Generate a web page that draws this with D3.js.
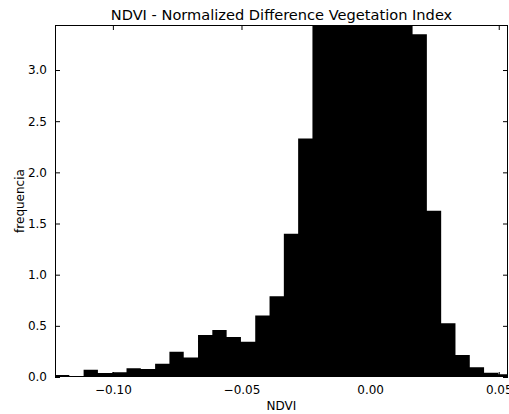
<!DOCTYPE html>
<html>
<head>
<meta charset="utf-8">
<script src="https://cdn.jsdelivr.net/npm/d3@7"></script>
<style>
  body { margin: 0; background: #fff; }
  text { font-family: "DejaVu Sans", sans-serif; fill: #000; }
</style>
</head>
<body>
<div id="chart"></div>
<script>
// histogram data: bins start at binStart, each binWidth wide
const binStart = -0.1225;
const binWidth = 0.00556;
const counts = [0.02, 0.007, 0.07, 0.04, 0.046, 0.085, 0.078, 0.13, 0.246, 0.19,
  0.41, 0.46, 0.39, 0.345, 0.60, 0.79, 1.40, 2.33, 3.9, 5.0,
  5.8, 6.2, 6.0, 5.3, 4.4, 3.35, 1.625, 0.525, 0.215, 0.095,
  0.042, 0.026];
const xTicks = [-0.10, -0.05, 0.00, 0.05];
const yTicks = [0.0, 0.5, 1.0, 1.5, 2.0, 2.5, 3.0];

const width = 509, height = 414;
const margin = { top: 25, right: 1, bottom: 37, left: 55 };

const svg = d3.select("#chart").append("svg")
  .attr("width", width)
  .attr("height", height);

// scales
const x = d3.scaleLinear()
  .domain([-0.1225, 0.0536])
  .range([margin.left, width - margin.right]);
const y = d3.scaleLinear()
  .domain([0, 3.44])
  .range([height - margin.bottom, margin.top]);

svg.append("clipPath").attr("id", "plot")
  .append("rect")
  .attr("x", margin.left).attr("y", margin.top)
  .attr("width", width - margin.left - margin.right)
  .attr("height", height - margin.top - margin.bottom);

// bars (drawn as one path so there are no seams between neighbours)
const area = d3.area()
  .curve(d3.curveStepAfter)
  .x(d => x(d[0]))
  .y0(y(0))
  .y1(d => y(d[1]));
const steps = counts.map((c, i) => [binStart + i * binWidth, c]);
steps.push([binStart + counts.length * binWidth, counts[counts.length - 1]]);

svg.append("g").attr("clip-path", "url(#plot)")
  .append("path")
  .datum(steps)
  .attr("d", area)
  .attr("fill", "#000");

const fmt = d => d3.format(".2f")(d).replace("-", "\u2212");

// axes, ticks pointing inward like classic matplotlib
const xBottom = svg.append("g")
  .attr("transform", `translate(0,${height - margin.bottom})`)
  .call(d3.axisBottom(x).tickValues(xTicks).tickSizeInner(-5).tickSizeOuter(0).tickPadding(8).tickFormat(fmt));
const xTop = svg.append("g")
  .attr("transform", `translate(0,${margin.top})`)
  .call(d3.axisTop(x).tickValues(xTicks).tickSizeInner(-5).tickSizeOuter(0).tickFormat(""));
const yLeft = svg.append("g")
  .attr("transform", `translate(${margin.left},0)`)
  .call(d3.axisLeft(y).tickValues(yTicks).tickSizeInner(-5).tickSizeOuter(0).tickPadding(8).tickFormat(d3.format(".1f")));
const yRight = svg.append("g")
  .attr("transform", `translate(${width - margin.right},0)`)
  .call(d3.axisRight(y).tickValues(yTicks).tickSizeInner(-5).tickSizeOuter(0).tickFormat(""));

[xBottom, xTop, yLeft, yRight].forEach(g => {
  g.select(".domain").remove();
  g.selectAll("line").attr("stroke", "#000");
  g.selectAll("text").attr("font-size", 12).attr("font-family", "DejaVu Sans").attr("fill", "#000");
});

// frame
svg.append("rect")
  .attr("x", margin.left + 0.5).attr("y", margin.top + 0.5)
  .attr("width", width - margin.left - margin.right - 1)
  .attr("height", height - margin.top - margin.bottom - 1)
  .attr("fill", "none")
  .attr("stroke", "#000");

// labels
svg.append("text")
  .attr("x", (margin.left + width - margin.right) / 2)
  .attr("y", 20)
  .attr("text-anchor", "middle")
  .attr("font-size", 14.6)
  .text("NDVI - Normalized Difference Vegetation Index");

svg.append("text")
  .attr("x", (margin.left + width - margin.right) / 2)
  .attr("y", 410)
  .attr("text-anchor", "middle")
  .attr("font-size", 12)
  .text("NDVI");

svg.append("text")
  .attr("transform", `translate(24,${(margin.top + height - margin.bottom) / 2}) rotate(-90)`)
  .attr("text-anchor", "middle")
  .attr("font-size", 12)
  .text("frequencia");
</script>
</body>
</html>
